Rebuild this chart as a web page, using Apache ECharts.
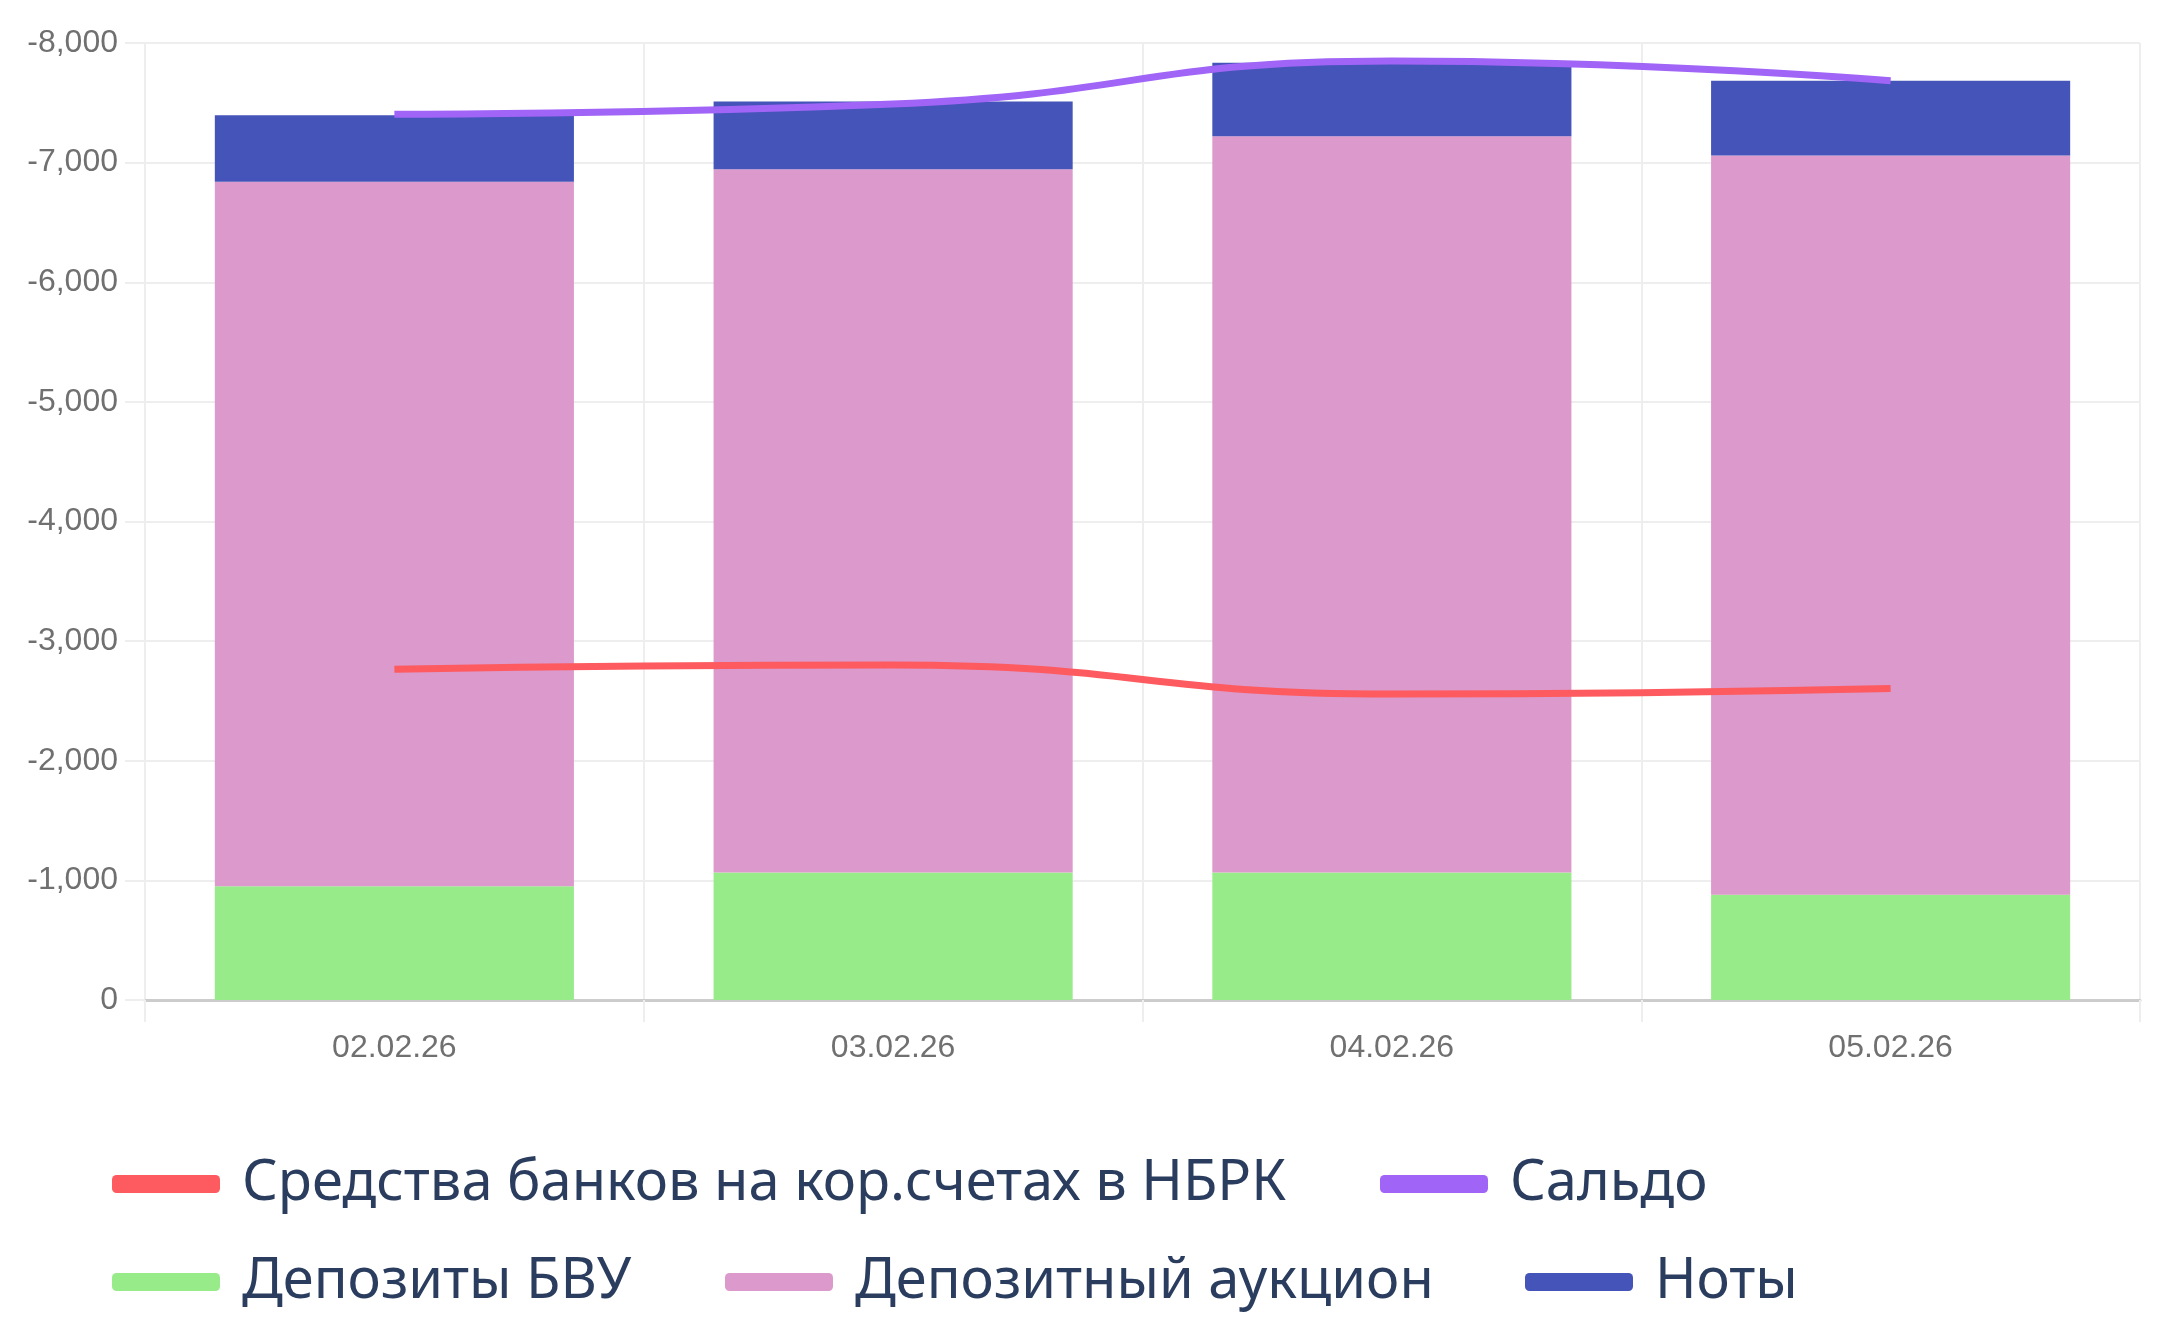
<!DOCTYPE html>
<html>
<head>
<meta charset="utf-8">
<script src="https://cdn.jsdelivr.net/npm/echarts@6/dist/echarts.min.js"></script>
<style>
  html, body { margin: 0; padding: 0; background: #fff; }
  #chart { width: 2160px; height: 1333px; }
</style>
</head>
<body>
<div id="chart"></div>
<script>
// даты
var dates = ['02.02.26', '03.02.26', '04.02.26', '05.02.26'];
// столбцы (млрд тг, отрицательные)
var depBVU = [-950, -1065, -1065, -880];
var depAuction = [-5890, -5880, -6155, -6180];
var notes = [-555, -565, -615, -625];
// линии
var korScheta = [-2765, -2800, -2558, -2604];
var saldo = [-7405, -7490, -7850, -7685];

var names = ['Средства банков на кор.счетах в НБРК', 'Сальдо', 'Депозиты БВУ', 'Депозитный аукцион', 'Ноты'];
var colors = ['#fd5b5f', '#a064f6', '#98eb89', '#dc99cb', '#4454b8'];

var myChart = echarts.init(document.getElementById('chart'));

// каждая запись легенды ставится отдельно, чтобы ряды совпали с образцом
var legendPos = [
  { left: 107, top: 1151 },
  { left: 1375, top: 1151 },
  { left: 107, top: 1249 },
  { left: 720, top: 1249 },
  { left: 1520, top: 1249 }
];
var legends = names.map(function (n, i) {
  return {
    data: [n],
    left: legendPos[i].left,
    top: legendPos[i].top,
    icon: 'roundRect',
    itemWidth: 108,
    itemHeight: 18,
    itemGap: 0,
    textStyle: { fontFamily: 'Noto Sans', fontSize: 56, color: '#2b3d5e', padding: [0, 0, 0, 17] }
  };
});

var axisFont = { fontFamily: 'Liberation Sans', fontSize: 32, color: '#707070' };

var option = {
  animation: false,
  color: colors,
  legend: legends,
  grid: { left: 145, right: 20, top: 43, bottom: 333, containLabel: false },
  xAxis: {
    type: 'category',
    data: dates,
    axisLine: { lineStyle: { color: '#ccc', width: 3 } },
    axisTick: { show: true, length: 22, lineStyle: { color: '#eee', width: 2 } },
    splitLine: { show: true, lineStyle: { color: '#eee', width: 2 } },
    axisLabel: Object.assign({ margin: 32 }, axisFont)
  },
  yAxis: {
    type: 'value',
    inverse: true,
    min: -8000,
    max: 0,
    interval: 1000,
    axisLine: { show: false },
    axisTick: { show: true, length: 20, lineStyle: { color: '#eee', width: 2 } },
    splitLine: { lineStyle: { color: '#eee', width: 2 } },
    axisLabel: Object.assign({
      margin: 27,
      formatter: function (v) {
        return v.toLocaleString('en-US');
      }
    }, axisFont)
  },
  series: [
    {
      name: names[0], type: 'line', data: korScheta, smooth: true, showSymbol: false,
      lineStyle: { width: 7, color: colors[0] }, itemStyle: { color: colors[0] }, z: 5
    },
    {
      name: names[1], type: 'line', data: saldo, smooth: true, showSymbol: false,
      lineStyle: { width: 7, color: colors[1] }, itemStyle: { color: colors[1] }, z: 5
    },
    {
      name: names[2], type: 'bar', stack: 'total', data: depBVU, barWidth: '72%',
      itemStyle: { color: colors[2] }
    },
    {
      name: names[3], type: 'bar', stack: 'total', data: depAuction, barWidth: '72%',
      itemStyle: { color: colors[3] }
    },
    {
      name: names[4], type: 'bar', stack: 'total', data: notes, barWidth: '72%',
      itemStyle: { color: colors[4] }
    }
  ]
};

myChart.setOption(option);
</script>
</body>
</html>
